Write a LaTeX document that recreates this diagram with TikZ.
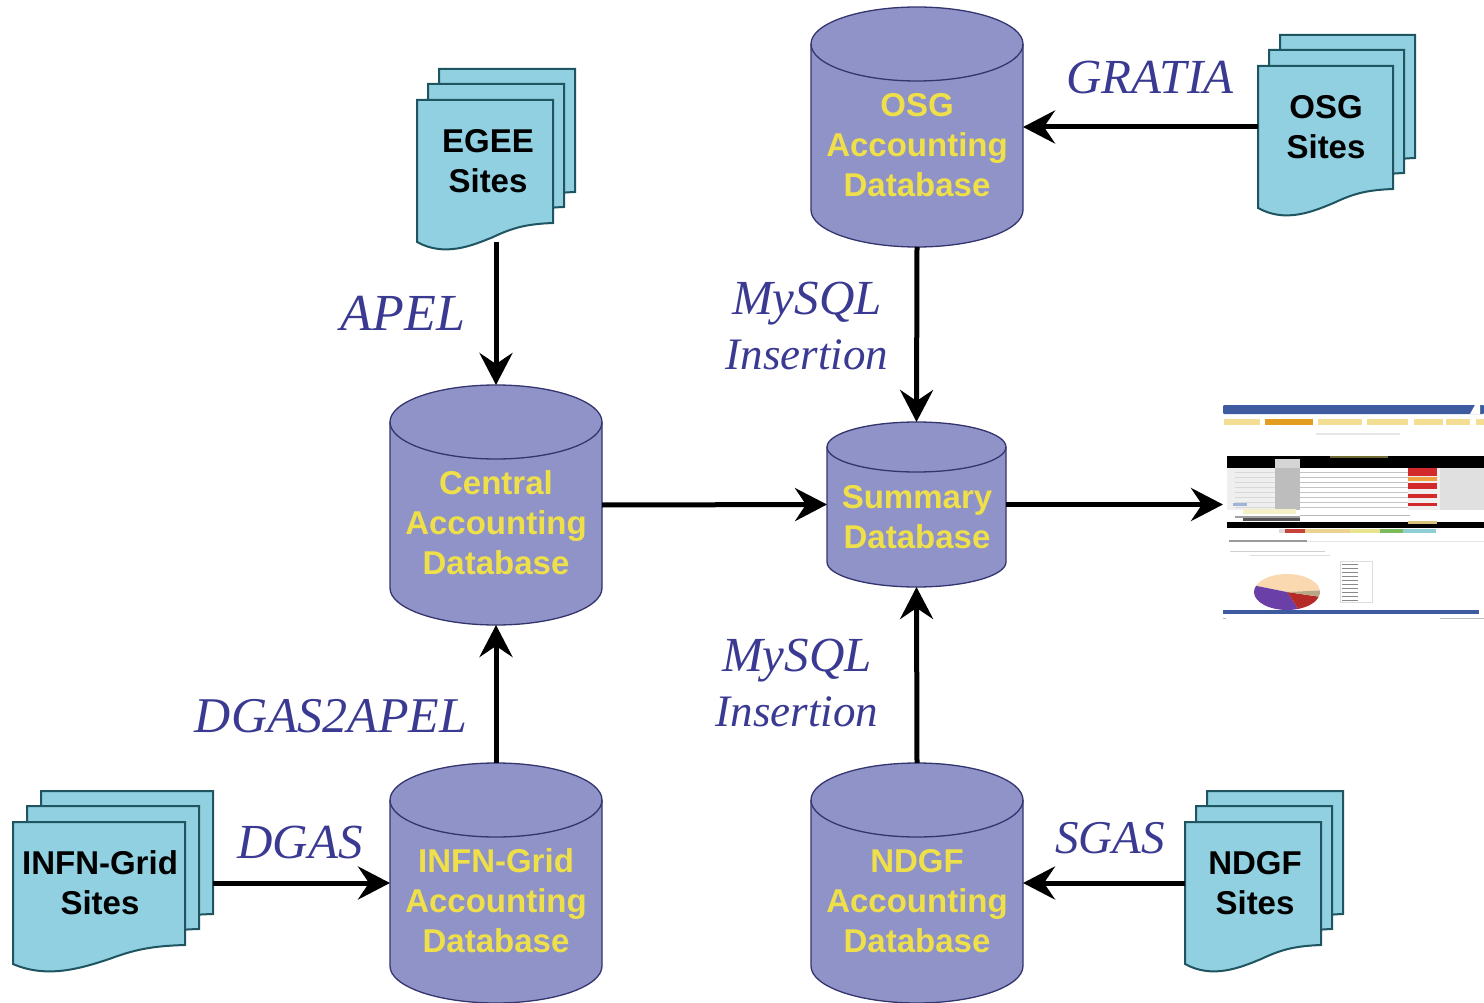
\documentclass[tikz,border=0pt]{standalone}
\usepackage{fontspec}
\setmainfont{Liberation Sans}
\newfontfamily\scriptfam{Liberation Serif}
\usetikzlibrary{arrows.meta}
\definecolor{dbfill}{HTML}{8F93C8}
\definecolor{dbline}{HTML}{34346E}
\definecolor{dbtext}{HTML}{EFE04A}
\definecolor{docfill}{HTML}{91D0E0}
\definecolor{docline}{HTML}{1E5560}
\definecolor{labelblue}{HTML}{3A3A92}
\tikzset{
  hx/.code={\definecolor{tmpc}{HTML}{#1}\pgfkeysalso{/tikz/color=tmpc}},
  dbshape/.style={fill=dbfill,draw=dbline,line width=1.3pt},
  docshape/.style={fill=docfill,draw=docline,line width=2pt,line join=miter},
  dbcaption/.style={align=center,text=dbtext,font=\fontsize{33}{40}\selectfont\bfseries},
  doccaption/.style={align=center,text=black,font=\fontsize{33}{40}\selectfont\bfseries},
  tool/.style={align=center,text=labelblue,font=\scriptfam\itshape},
  flow/.style={line width=5pt,-{Stealth[length=32pt,width=33pt,inset=11pt]},black},
}
% name, left, top, right, bottom, ry
\newcommand{\dbcyl}[6]{%
  \draw[dbshape] (#2,#3+#6) arc[start angle=180,end angle=0,x radius={(#4-#2)/2*1pt},y radius=#6*1pt]
     -- (#4,#5-#6) arc[start angle=0,end angle=-180,x radius={(#4-#2)/2*1pt},y radius=#6*1pt] -- cycle;
  \draw[dbline,line width=1.3pt] (#2,#3+#6) arc[start angle=180,end angle=360,x radius={(#4-#2)/2*1pt},y radius=#6*1pt];
  \node[inner sep=0pt,outer sep=0pt,minimum width={(#4-#2)*1pt},minimum height={(#5-#3)*1pt}] (#1) at ({(#2+#4)/2},{(#3+#5)/2}) {};
}
% single sheet: left, top, width
\newcommand{\sheet}[3]{%
  \draw[docshape] (#1,#2) -- (#1+#3,#2) -- (#1+#3,#2+123)
    .. controls (#1+0.8*#3,#2+124) and (#1+0.7*#3,#2+128) .. (#1+0.56*#3,#2+137)
    .. controls (#1+0.4*#3,#2+146) and (#1+0.2*#3,#2+157) .. (#1,#2+142) -- cycle;
}
% name, front left, front top, width, horizontal offset between sheets
\newcommand{\docstack}[5]{%
  \sheet{#2+2*#5}{#3-31}{#4}
  \sheet{#2+#5}{#3-16}{#4}
  \sheet{#2}{#3}{#4}
  \node[inner sep=0pt,outer sep=0pt,minimum width={(#4+2*#5)*1pt},minimum height=173pt] (#1) at ({#2+(#4+2*#5)/2},{#3-31+86.5}) {};
}
\newcommand{\lab}[1]{\fontsize{#1}{#1}\selectfont}
\begin{document}
\begin{tikzpicture}[x=1pt,y=-1pt]
\useasboundingbox (0,0) rectangle (1484,1003);
\fill[white] (0,0) rectangle (1484,1003);

% databases
\dbcyl{osg}{811}{7}{1023}{247}{37}
\dbcyl{central}{390}{385}{602}{625}{37}
\dbcyl{infn}{390}{763}{602}{1003}{37}
\dbcyl{ndgf}{811}{763}{1023}{1003}{37}
\dbcyl{summary}{827}{422}{1006}{587}{25}
\node[dbcaption] (osgt) at (917,145) {OSG\\Accounting\\Database};
\node[dbcaption] (centralt) at (496,523) {Central\\Accounting\\Database};
\node[dbcaption] (infnt) at (496,901) {INFN-Grid\\Accounting\\Database};
\node[dbcaption] (ndgft) at (917,901) {NDGF\\Accounting\\Database};
\node[dbcaption] (summaryt) at (917,517) {Summary\\Database};

% site stacks
\docstack{egee}{417}{100}{136}{11}
\docstack{osgs}{1258}{66}{135}{11}
\docstack{ndgfs}{1185}{822}{136}{11}
\docstack{infns}{13}{822}{172}{14}
\node[doccaption] (egeet) at (488,161) {EGEE\\Sites};
\node[doccaption] (osgst) at (1326,127) {OSG\\Sites};
\node[doccaption] (ndgfst) at (1255,883) {NDGF\\Sites};
\node[doccaption] (infnst) at (100,883) {INFN-Grid\\Sites};

% portal screenshot
\node[inner sep=0pt,outer sep=0pt,minimum width=261pt,minimum height=220pt] (portal) at (1353.5,515) {};
\begin{scope}
\clip (1222,400) rectangle (1484,630);
\fill[hx=3F5BA0,rounded corners=1pt] (1223,405) rectangle (1484,414);
\fill[white] (1470,414) -- (1475,405) -- (1480,405) -- (1480,414) -- cycle;
\foreach \a/\b in {1224/1260,1318/1362,1367/1408,1414/1443,1446/1470,1476/1484}
  \fill[hx=F3DE94] (\a,419) rectangle (\b,425);
\fill[hx=E39E22] (1265,419) rectangle (1313,425);
\fill[hx=E6E6E6] (1316,433) rectangle (1400,435);
\fill[hx=EFEFEF] (1227,468) rectangle (1484,510);
\fill[hx=BDBDBD] (1275,468) rectangle (1300,510);
\fill[white] (1300,468) rectangle (1408,510);
\foreach \y in {472,477,482,487,492,497,502,507}
  \fill[hx=C4C4C4] (1300,\y) rectangle (1408,\y+1);
\foreach \y in {472,477,482,487,492,497,502,507}
  \draw[hx=D8D8D8,line width=0.8pt] (1235,\y) -- (1275,\y);
\fill[hx=E0E0E0] (1440,468) rectangle (1484,510);
\fill[hx=000000] (1227,456) rectangle (1484,468);
\fill[hx=6F6A30] (1330,456) rectangle (1388,458);
\fill[hx=D5D5D5] (1275,459) rectangle (1300,468);
\fill[hx=D22A2A] (1408,468) rectangle (1437,476);
\fill[hx=F0A040] (1408,477) rectangle (1437,481);
\fill[hx=D22A2A] (1408,483) rectangle (1437,489);
\fill[hx=D22A2A] (1408,494) rectangle (1437,498);
\fill[hx=D22A2A] (1408,503) rectangle (1437,506);
\fill[hx=9FB5D8] (1233,503) rectangle (1247,506);
\fill[hx=F4F0C8] (1243,509) rectangle (1296,514);
\fill[hx=A0A0A0] (1235,516) rectangle (1300,518);
\fill[hx=BBBBBB] (1300,515) rectangle (1410,516);
\fill[hx=555555] (1243,518) rectangle (1300,521);
\fill[hx=000000] (1227,522) rectangle (1484,528);
\fill[hx=D9C27A] (1408,521) rectangle (1437,524);
\fill[hx=DDDDDD] (1279,529) rectangle (1285,533);
\fill[hx=C8403A] (1285,529) rectangle (1305,533);
\fill[hx=EBD28E] (1305,529) rectangle (1350,533);
\fill[hx=E6E48C] (1350,529) rectangle (1380,533);
\fill[hx=7CBB5C] (1380,529) rectangle (1403,533);
\fill[hx=8ECFD6] (1403,529) rectangle (1436,533);
\fill[hx=9A9A9A] (1229,540) rectangle (1307,542);
\fill[hx=E4E4E4] (1307,540.5) rectangle (1484,541.5);
\fill[hx=D0D0D0] (1230,551) rectangle (1325,552);
\fill[hx=DDDDDD] (1250,555) rectangle (1330,556);
% pie
\fill[hx=FAD9B0] (1287,592) -- ++(5:33pt and 18pt) arc[start angle=5,end angle=160,x radius=33pt,y radius=18pt] -- cycle;
\fill[hx=6B3FA8] (1287,592) -- ++(160:33pt and 18pt) arc[start angle=160,end angle=290,x radius=33pt,y radius=18pt] -- cycle;
\fill[hx=B62A28] (1287,592) -- ++(290:33pt and 18pt) arc[start angle=290,end angle=345,x radius=33pt,y radius=18pt] -- cycle;
\fill[hx=B8A888] (1287,592) -- ++(345:33pt and 18pt) arc[start angle=345,end angle=365,x radius=33pt,y radius=18pt] -- cycle;
% legend
\draw[hx=DDDDDD] (1340,561) rectangle (1372,602);
\foreach \y in {564,568,572,576,580,584,588,592,596,600}
  \fill[hx=8A8A8A] (1342,\y) rectangle (1358,\y+1);
% footer
\fill[hx=3F5BA0] (1223,610) rectangle (1479,614);
\fill[hx=BBBBBB] (1223,618) rectangle (1226,619);
\fill[hx=BBBBBB] (1440,618) rectangle (1484,619);
\end{scope}

% tool labels
\node[tool] (apel) at (403,313) {\lab{52}APEL};
\node[tool] (gratia) at (1150,77) {\lab{49}GRATIA};
\node[tool] (dgas2) at (331,716) {\lab{50}DGAS2APEL};
\node[tool] (dgas) at (300,843) {\lab{49}DGAS};
\node[tool] (sgas) at (1110,838) {\lab{47}SGAS};
\node[tool] (mysqla) at (807,326) {\lab{49}MySQL\\[14pt]\lab{45}Insertion};
\node[tool] (mysqlb) at (797,683) {\lab{49}MySQL\\[14pt]\lab{45}Insertion};

% connectors
\draw[flow] (egee.south) -- (central.north);
\draw[flow] (infn.north) -- (central.south);
\draw[flow] (central.east) -- (summary.west);
\draw[flow] (osg.south) -- (summary.north);
\draw[flow] (ndgf.north) -- (summary.south);
\draw[flow] (summary.east) -- (summary.east -| portal.west);
\draw[flow] (osgs.west |- osg.east) -- (osg.east);
\draw[flow] (ndgfs.west |- ndgf.east) -- (ndgf.east);
\draw[flow] (infns.east |- infn.west) -- (infn.west);
\end{tikzpicture}
\end{document}
